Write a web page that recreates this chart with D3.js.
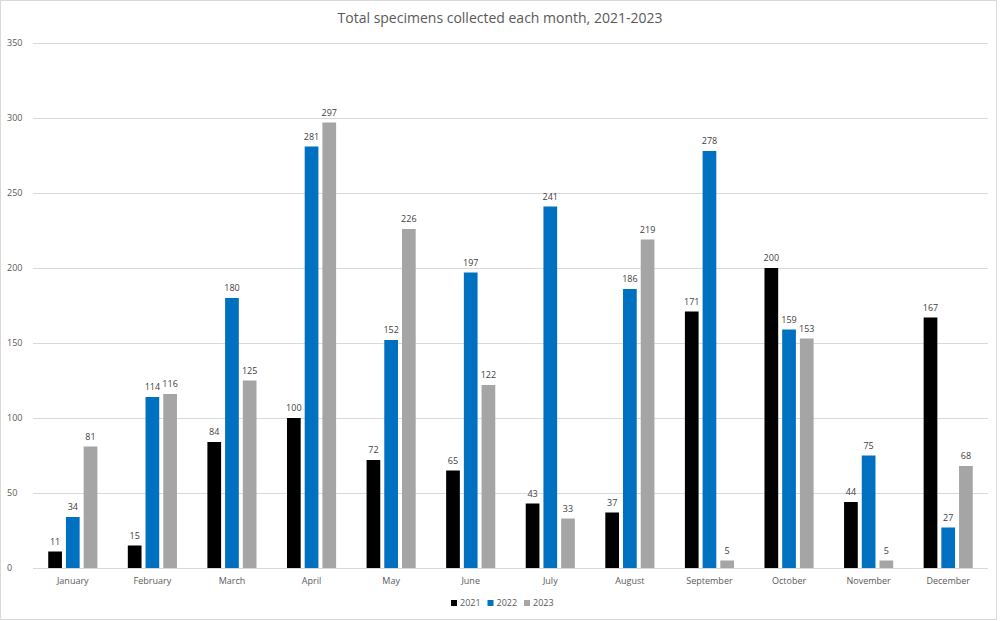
<!DOCTYPE html>
<html>
<head>
<meta charset="utf-8">
<script src="https://cdn.jsdelivr.net/npm/d3@7"></script>
<style>
  body { margin: 0; background: #fff; }
  svg { font-family: "Open Sans", "Noto Sans", sans-serif; }
</style>
</head>
<body>
<svg id="chart"></svg>
<script>
// chart data
const months = ["January", "February", "March", "April", "May", "June", "July", "August", "September", "October", "November", "December"];
const years = ["2021", "2022", "2023"];
const values2021 = [11, 15, 84, 100, 72, 65, 43, 37, 171, 200, 44, 167];
const values2022 = [34, 114, 180, 281, 152, 197, 241, 186, 278, 159, 75, 27];
const values2023 = [81, 116, 125, 297, 226, 122, 33, 219, 5, 153, 5, 68];
const yTicks = [0, 50, 100, 150, 200, 250, 300, 350];
const colors = ["#000000", "#0070c0", "#a5a5a5"];

const series = [values2021, values2022, values2023];
const width = 1000, height = 621;
const margin = {top: 43, right: 12, bottom: 53, left: 33};

const svg = d3.select("#chart")
    .attr("width", width)
    .attr("height", height);

// outer border
svg.append("rect")
    .attr("x", 0.5).attr("y", 0.5)
    .attr("width", width - 4).attr("height", height - 2)
    .attr("fill", "#fff")
    .attr("stroke", "#d9d9d9");

var x0 = d3.scaleBand()
    .domain(months)
    .range([margin.left, width - margin.right])
    .paddingInner(0)
    .paddingOuter(0);

//bars inside each month
var x1 = d3.scaleBand()
    .domain(years)
    .range([0, x0.bandwidth()])
    .paddingInner(0.226)
    .paddingOuter(0.86);

var y = d3.scaleLinear()
    .domain([0, 350])
    .range([height - margin.bottom, margin.top]);

// gridlines
svg.append("g")
    .selectAll("line")
    .data(yTicks)
    .join("line")
    .attr("x1", margin.left)
    .attr("x2", width - margin.right)
    .attr("y1", d => y(d) + 0.5)
    .attr("y2", d => y(d) + 0.5)
    .attr("stroke", "#d9d9d9")
    .attr("stroke-width", 1);

// y tick labels
svg.append("g")
    .selectAll("text")
    .data(yTicks)
    .join("text")
    .attr("x", 7)
    .attr("y", d => y(d) + 3)
    .attr("font-size", 9)
    .attr("fill", "#595959")
    .text(d => d);

// bars
var groups = svg.append("g")
    .selectAll("g")
    .data(months)
    .join("g")
    .attr("transform", d => "translate(" + x0(d) + ",0)");

groups.selectAll("rect")
    .data((m, i) => years.map((yr, j) => ({year: yr, value: series[j][i], idx: j})))
    .join("rect")
    .attr("x", d => x1(d.year))
    .attr("y", d => y(d.value))
    .attr("width", x1.bandwidth())
    .attr("height", d => y(0) - y(d.value))
    .attr("fill", d => colors[d.idx]);

groups.selectAll("text")
    .data((m, i) => years.map((yr, j) => ({year: yr, value: series[j][i], idx: j})))
    .join("text")
    .attr("x", d => x1(d.year) + x1.bandwidth() / 2)
    .attr("y", d => y(d.value) - 7)
    .attr("text-anchor", "middle")
    .attr("font-size", 9)
    .attr("fill", "#404040")
    .text(d => d.value);

// x axis line
svg.append("line")
    .attr("x1", margin.left)
    .attr("x2", width - margin.right)
    .attr("y1", y(0) + 0.5)
    .attr("y2", y(0) + 0.5)
    .attr("stroke", "#d9d9d9");

// month labels
svg.append("g")
    .selectAll("text")
    .data(months)
    .join("text")
    .attr("x", d => x0(d) + x0.bandwidth() / 2)
    .attr("y", y(0) + 16)
    .attr("text-anchor", "middle")
    .attr("font-size", 9)
    .attr("fill", "#595959")
    .text(d => d);

// title
svg.append("text")
    .attr("x", width / 2)
    .attr("y", 23)
    .attr("text-anchor", "middle")
    .attr("font-size", 14)
    .attr("fill", "#595959")
    .text("Total specimens collected each month, 2021-2023");

// legend
var legend = svg.append("g")
    .attr("transform", "translate(451,606)");

var items = legend.selectAll("g")
    .data(years)
    .join("g")
    .attr("transform", (d, i) => "translate(" + (i * 36.5) + ",0)");

items.append("rect")
    .attr("x", 0).attr("y", -6)
    .attr("width", 6).attr("height", 6)
    .attr("fill", (d, i) => colors[i]);

items.append("text")
    .attr("x", 9)
    .attr("y", 0)
    .attr("font-size", 9)
    .attr("fill", "#595959")
    .text(d => d);
</script>
</body>
</html>
